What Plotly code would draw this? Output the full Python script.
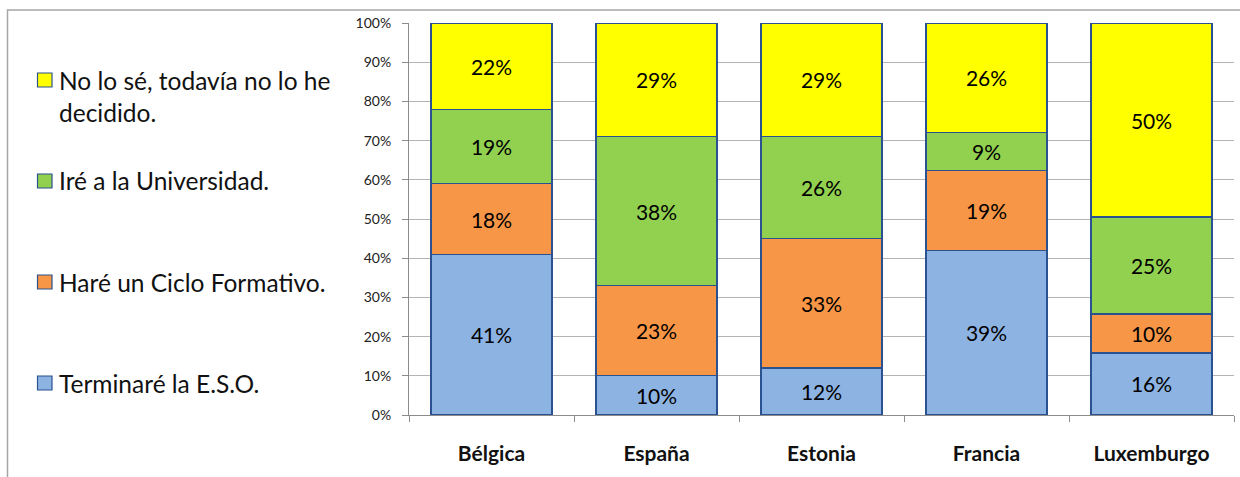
import plotly.graph_objects as go

# Countries and answer shares (as printed on each segment)
countries = ["Bélgica", "España", "Estonia", "Francia", "Luxemburgo"]
series_names = [
    "Terminaré la E.S.O.",
    "Haré un Ciclo Formativo.",
    "Iré a la Universidad.",
    "No lo sé, todavía no lo he<br>decidido.",
]
terminare_eso = [41, 10, 12, 39, 16]
ciclo_formativo = [18, 23, 33, 19, 10]
universidad = [19, 38, 26, 9, 25]
no_lo_se = [22, 29, 29, 26, 50]
y_ticks = [0, 10, 20, 30, 40, 50, 60, 70, 80, 90, 100]

series_values = [terminare_eso, ciclo_formativo, universidad, no_lo_se]
colors = ["#8DB3E2", "#F79646", "#92D050", "#FFFF00"]
edge = "#2A5190"
font_family = "Lato, 'Open Sans', sans-serif"

W, H = 1240, 477
L, R, T, B = 409, 1234, 23, 415


def px_x(p):
    return (p - L) / (R - L)


def px_y(p):
    return (B - p) / (B - T)


fig = go.Figure()
for name, vals, col in zip(series_names, series_values, colors):
    fig.add_trace(go.Bar(
        x=countries,
        y=vals,
        name=name,
        text=[f"{v}%" for v in vals],
        textposition="inside",
        insidetextanchor="middle",
        textangle=0,
        textfont=dict(family=font_family, size=21, color="#000000"),
        marker=dict(color=col, line=dict(color=edge, width=1.3)),
        showlegend=False,
    ))

# Legend drawn at the left: coloured squares with their labels
legend_centers = [383, 282, 181, 80]
shapes = []
annotations = []
for name, col, cy in zip(series_names, colors, legend_centers):
    shapes.append(dict(
        type="rect", xref="paper", yref="paper",
        x0=px_x(37.5), x1=px_x(52), y0=px_y(cy + 7), y1=px_y(cy - 7),
        fillcolor=col, line=dict(color=edge, width=1.2),
    ))
    for i, line in enumerate(name.split("<br>")):
        annotations.append(dict(
            xref="paper", yref="paper", x=px_x(57), y=px_y(cy + i * 33),
            xanchor="left", yanchor="middle", showarrow=False, align="left",
            text=line, font=dict(family=font_family, size=24.5, color="#111111"),
        ))

# Outer chart frame
shapes.append(dict(
    type="rect", xref="paper", yref="paper",
    x0=px_x(7.5), x1=px_x(1260), y0=px_y(500), y1=px_y(10),
    line=dict(color="#A6A6A6", width=1.5), fillcolor="rgba(0,0,0,0)",
    layer="below",
))

fig.update_layout(
    width=W, height=H,
    margin=dict(l=L, r=W - R, t=T, b=H - B, pad=0),
    barmode="stack",
    barnorm="percent",
    bargap=0.267,
    plot_bgcolor="#FFFFFF",
    paper_bgcolor="#FFFFFF",
    shapes=shapes,
    annotations=annotations,
    uniformtext=dict(mode=False),
)
fig.update_yaxes(
    range=[0, 100],
    tickvals=y_ticks,
    ticktext=[f"{v}%" for v in y_ticks],
    showgrid=True, gridcolor="#B4B4B4", gridwidth=1,
    showline=True, linecolor="#8C8C8C", linewidth=1,
    ticks="outside", ticklen=6, tickcolor="#8C8C8C",
    ticklabelstandoff=8,
    tickfont=dict(family=font_family, size=14, color="#222222"),
    zeroline=False,
    fixedrange=True,
)
fig.update_xaxes(
    showline=True, linecolor="#8C8C8C", linewidth=1,
    ticks="outside", ticklen=6, tickcolor="#8C8C8C",
    tickson="boundaries",
    ticklabelstandoff=20,
    tickfont=dict(family=font_family, size=21, color="#111111", weight="bold"),
    showgrid=False,
    fixedrange=True,
)

fig.write_html("out.html")
